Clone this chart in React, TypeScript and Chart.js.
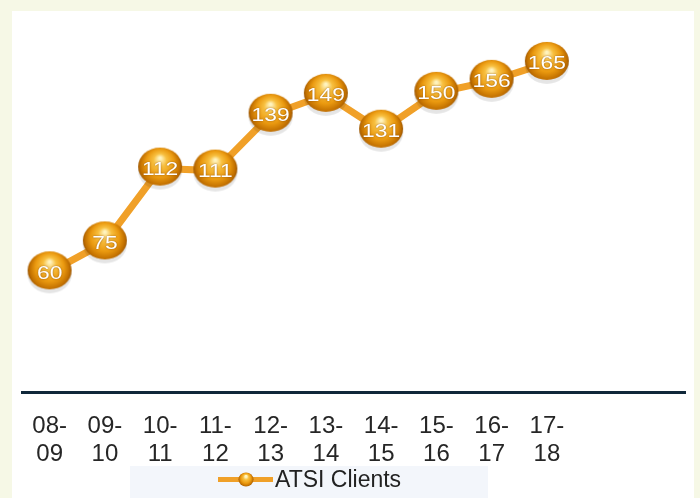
import React, { useEffect, useRef } from "react";
import { Chart, registerables } from "chart.js";

Chart.register(...registerables);

// ---- data ----
const categories: string[][] = [
  ["08-", "09"], ["09-", "10"], ["10-", "11"], ["11-", "12"], ["12-", "13"],
  ["13-", "14"], ["14-", "15"], ["15-", "16"], ["16-", "17"], ["17-", "18"],
  [""], [""],
];
const clients = [60, 75, 112, 111, 139, 149, 131, 150, 156, 165];
const seriesName = "ATSI Clients";
const yMin = 0;
const yMax = 180;

const FONT = '"Liberation Sans", Arial, sans-serif';
const ORANGE = "#f0a028";

function drawSphere(ctx: CanvasRenderingContext2D, cx: number, cy: number, rx: number, ry: number) {
  const g = ctx.createRadialGradient(cx, cy - ry * 0.45, 1, cx, cy, Math.max(rx, ry) * 1.05);
  g.addColorStop(0, "#fff4c0");
  g.addColorStop(0.25, "#f8c040");
  g.addColorStop(0.6, "#eb9a10");
  g.addColorStop(0.85, "#c27000");
  g.addColorStop(1, "#8a4a00");
  ctx.beginPath();
  ctx.ellipse(cx, cy, rx, ry, 0, 0, Math.PI * 2);
  ctx.fillStyle = g;
  ctx.fill();
}

function makeSphere(w: number, h: number) {
  const c = document.createElement("canvas");
  c.width = w + 4;
  c.height = h + 8;
  const ctx = c.getContext("2d")!;
  const cx = c.width / 2;
  const cy = h / 2 + 2;
  ctx.beginPath();
  ctx.ellipse(cx, cy + 4, w / 2, h / 2, 0, 0, Math.PI * 2);
  ctx.fillStyle = "rgba(0,0,0,0.10)";
  ctx.fill();
  drawSphere(ctx, cx, cy, w / 2, h / 2);
  return c;
}

const labelPlugin = {
  id: "pointLabels",
  afterDatasetsDraw(chart: any) {
    const ctx = chart.ctx;
    const meta = chart.getDatasetMeta(0);
    meta.data.forEach((pt: any, i: number) => {
      ctx.save();
      ctx.translate(pt.x, pt.y + 1);
      ctx.scale(1.2, 1);
      ctx.font = "19px " + FONT;
      ctx.textAlign = "center";
      ctx.textBaseline = "middle";
      ctx.shadowColor = "rgba(110,50,0,0.7)";
      ctx.shadowBlur = 2;
      ctx.fillStyle = "#ffffff";
      ctx.fillText(String(clients[i]), 0, 0);
      ctx.restore();
    });
  },
};

// two-line category labels, placed at the x scale's own tick positions
const tickLabelPlugin = {
  id: "tickLabels",
  afterDraw(chart: any) {
    const ctx = chart.ctx;
    const sx = chart.scales.x;
    const lineH = 28;
    ctx.save();
    ctx.font = "24px " + FONT;
    ctx.fillStyle = "#262626";
    ctx.textAlign = "center";
    ctx.textBaseline = "middle";
    categories.forEach((lines, i) => {
      const x = sx.getPixelForTick(i);
      lines.forEach((t, j) => {
        ctx.fillText(t, x, sx.top + 20 + lineH * (j + 0.5));
      });
    });
    ctx.restore();
  },
};

// custom legend (the reference legend sits left of centre, on a pale panel)
const legendPlugin = {
  id: "customLegend",
  afterDraw(chart: any) {
    const ctx = chart.ctx;
    const cy = chart.height - 18.5;
    ctx.save();
    ctx.globalCompositeOperation = "destination-over";
    ctx.fillStyle = "#f3f6fb";
    ctx.fillRect(118, cy - 13.5, 358, chart.height - (cy - 13.5));
    ctx.restore();

    ctx.save();
    ctx.strokeStyle = ORANGE;
    ctx.lineWidth = 5;
    ctx.beginPath();
    ctx.moveTo(206, cy);
    ctx.lineTo(261, cy);
    ctx.stroke();
    drawSphere(ctx, 234, cy, 7.5, 7);
    ctx.font = "23px " + FONT;
    ctx.fillStyle = "#222222";
    ctx.textAlign = "left";
    ctx.textBaseline = "middle";
    ctx.fillText(seriesName, 263, cy + 1);
    ctx.restore();
  },
};

export default function App() {
  const ref = useRef<HTMLCanvasElement>(null);
  useEffect(() => {
    if (!ref.current) return;
    const sphere = makeSphere(44, 38);
    const chart = new Chart(ref.current, {
      type: "line",
      data: {
        labels: categories.map((l) => l.join("")),
        datasets: [
          {
            label: seriesName,
            data: clients,
            borderColor: ORANGE,
            backgroundColor: ORANGE,
            borderWidth: 7,
            tension: 0,
            pointStyle: sphere as any,
            pointRadius: 21,
            pointHoverRadius: 21,
            clip: false as any,
          },
        ],
      },
      options: {
        animation: false,
        responsive: false,
        events: [],
        layout: { autoPadding: false, padding: { left: 10, right: 9, top: 22, bottom: 30 } },
        scales: {
          x: {
            type: "category",
            offset: true,
            grid: { display: false, drawTicks: false },
            border: { display: true, color: "#10283a", width: 3 },
            ticks: { display: false },
            afterFit: (s: any) => {
              s.height = 76;
            },
          },
          y: { display: false, min: yMin, max: yMax },
        },
        plugins: {
          legend: { display: false },
          tooltip: { enabled: false },
        },
      },
      plugins: [labelPlugin, tickLabelPlugin, legendPlugin],
    });
    return () => chart.destroy();
  }, []);

  return (
    <div style={{ position: "fixed", inset: 0, background: "#f6f8e6" }}>
      <div style={{ position: "absolute", left: 12, top: 11, width: 682, height: 487, background: "#ffffff" }}>
        <canvas ref={ref} width={682} height={487} style={{ display: "block", width: 682, height: 487 }} />
      </div>
    </div>
  );
}
